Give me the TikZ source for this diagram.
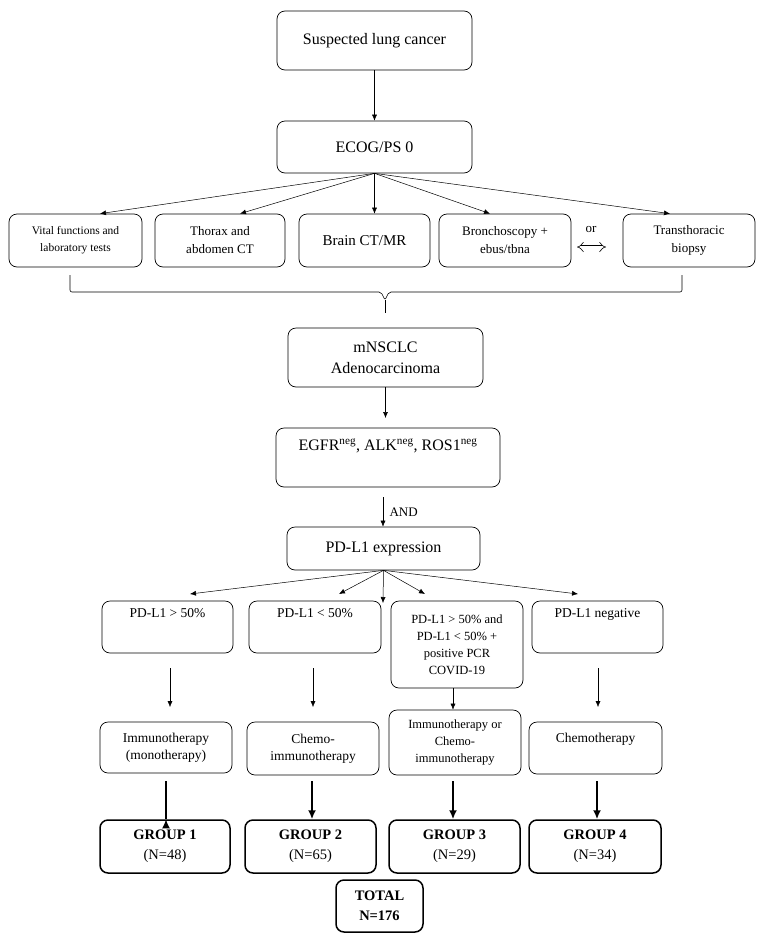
\documentclass[tikz,border=0pt]{standalone}
\usepackage{fontspec}
\setmainfont{Liberation Serif}
\usetikzlibrary{arrows.meta}
\begin{document}
\begin{tikzpicture}[x=1pt,y=-1pt,
  box/.style={draw,rounded corners=8pt,line width=0.7pt,align=center,inner sep=2pt},
  gbox/.style={box,line width=1.5pt},
  arr/.style={-{Latex[length=6pt,width=5pt]},line width=0.5pt},
  thick arr/.style={-{Latex[length=9pt,width=8pt]},line width=2.2pt}]
\useasboundingbox (0,0) rectangle (764,940);
\fill[white] (0,0) rectangle (764,940);
% top
\node[box,minimum width=195pt,minimum height=59pt,font=\fontsize{16}{18}\selectfont] (s) at (374.5,40.5) {Suspected lung cancer};
\node[box,minimum width=195pt,minimum height=52pt,font=\fontsize{16}{18}\selectfont] (e) at (374.5,147) {ECOG/PS 0};
\draw[arr] (s) -- (e);
% row 1
\begin{scope}[every node/.append style={box,minimum height=53pt,font=\fontsize{13}{18}\selectfont}]
\node[minimum width=133pt,font=\fontsize{11.5}{17}\selectfont] (v) at (75.5,240.5) {Vital functions and\\laboratory tests};
\node[minimum width=130pt] (t) at (220,240.5) {Thorax and\\abdomen CT};
\node[minimum width=131pt,font=\fontsize{15}{18}\selectfont] (b) at (364.5,240.5) {Brain CT/MR};
\node[minimum width=132pt] (br) at (505,240.5) {Bronchoscopy +\\ebus/tbna};
\node[minimum width=132pt] (tr) at (689,240.5) {Transthoracic\\biopsy};
\end{scope}
\draw[arr] (e.south) -- (v.north -| 100,0);
\draw[arr] (e.south) -- (t.north -| 240,0);
\draw[arr] (e.south) -- (b.north -| e.south);
\draw[arr] (e.south) -- (br.north -| 490,0);
\draw[arr] (e.south) -- (tr.north -| 670,0);
\node[font=\fontsize{13}{15}\selectfont] (or) at (591,229) {or};
\coordinate (dl) at (577,247);
\coordinate (dr) at (606,247);
\draw[double,double distance=3pt,line width=0.6pt,{Implies[length=5pt]}-{Implies[length=5pt]}] (dl) -- (dr);
% brace
\draw[line width=0.6pt,rounded corners=2pt] (70,275) -- (70,292) -- (381,292) -- (385,300) -- (389,292) -- (682,292) -- (682,275);
\coordinate (tip) at (385,300);
\coordinate (tipe) at (385,313);
\node[box,minimum width=195pt,minimum height=59pt,font=\fontsize{16}{21}\selectfont] (m) at (385.5,357.5) {mNSCLC\\Adenocarcinoma};
\draw[line width=0.6pt] (tip) -- (tipe);
\draw[arr] (m.south) -- (m.south |- 0,418);
\node[box,minimum width=224pt,minimum height=59pt,font=\fontsize{16}{18}\selectfont] (eg) at (388,457.5) {EGFR\textsuperscript{neg}, ALK\textsuperscript{neg}, ROS1\textsuperscript{neg}\\[8pt]};
\node[box,minimum width=193pt,minimum height=43pt,font=\fontsize{16}{18}\selectfont] (p) at (383.5,548.5) {PD-L1 expression};
\draw[arr] (eg.south -| 383,0) ++(0,10) -- (p.north -| 383,0) node[midway,right=3pt,font=\fontsize{13}{15}\selectfont] {AND};
% PD row
\begin{scope}[every node/.append style={box,font=\fontsize{13.5}{17}\selectfont}]
\node[minimum width=131pt,minimum height=52pt] (p1) at (167.5,627) {PD-L1 > 50\%\\[10pt]};
\node[minimum width=132pt,minimum height=52pt] (p2) at (315,627) {PD-L1 < 50\%\\[10pt]};
\node[minimum width=132pt,minimum height=87pt,font=\fontsize{12.5}{17}\selectfont] (p3) at (457,644.5) {PD-L1 > 50\% and\\PD-L1 < 50\% +\\positive PCR\\COVID-19};
\node[minimum width=131pt,minimum height=52pt] (p4) at (597.5,627) {PD-L1 negative\\[10pt]};
\node[minimum width=132pt,minimum height=51pt] (i1) at (166,747.5) {Immunotherapy\\(monotherapy)};
\node[minimum width=132pt,minimum height=53pt] (i2) at (313,748.5) {Chemo-\\immunotherapy};
\node[minimum width=132pt,minimum height=65pt,font=\fontsize{12.5}{17}\selectfont] (i3) at (455,742.5) {Immunotherapy or\\Chemo-\\immunotherapy};
\node[minimum width=133pt,minimum height=52pt] (i4) at (595.5,748) {Chemotherapy\\[4pt]};
\end{scope}
\draw[arr] (p.south) -- (190,594);
\draw[arr] (p.south) -- (339,594);
\draw[arr] (p.south) -- (383,603);
\draw[arr] (p.south) -- (425,594);
\draw[arr] (p.south) -- (578,594);
\coordinate (a1) at (170,668); \coordinate (b1) at (170,707);
\coordinate (a2) at (313,668); \coordinate (b2) at (313,707);
\coordinate (a4) at (598,668); \coordinate (b4) at (598,707);
\draw[arr,line width=0.4pt] (a1) -- (b1);
\draw[arr,line width=0.4pt] (a2) -- (b2);
\draw[arr,line width=0.4pt] (a4) -- (b4);
\draw[arr] (p3.south -| 453,0) -- (i3.north -| 453,0);
% groups
\begin{scope}[every node/.append style={gbox,minimum height=53pt,font=\fontsize{14.5}{20}\selectfont}]
\node[minimum width=130pt] (g1) at (165,846.5) {\textbf{GROUP 1}\\(N=48)};
\node[minimum width=131pt] (g2) at (310.5,846.5) {\textbf{GROUP 2}\\(N=65)};
\node[minimum width=131pt] (g3) at (454.5,846.5) {\textbf{GROUP 3}\\(N=29)};
\node[minimum width=132pt] (g4) at (595,846.5) {\textbf{GROUP 4}\\(N=34)};
\node[minimum width=87pt,minimum height=52pt] (tot) at (379.5,906) {\textbf{TOTAL}\\\textbf{N=176}};
\end{scope}
\coordinate (c1) at (166,781); \coordinate (c2) at (312,781);
\coordinate (c3) at (453,781); \coordinate (c4) at (597,781);
\draw[thick arr] (c1) -- (g1.north -| c1) ++(0,0);
\draw[thick arr] (c2) -- (g2.north -| c2);
\draw[thick arr] (c3) -- (g3.north -| c3);
\draw[thick arr] (c4) -- (g4.north -| c4);
\end{tikzpicture}
\end{document}
